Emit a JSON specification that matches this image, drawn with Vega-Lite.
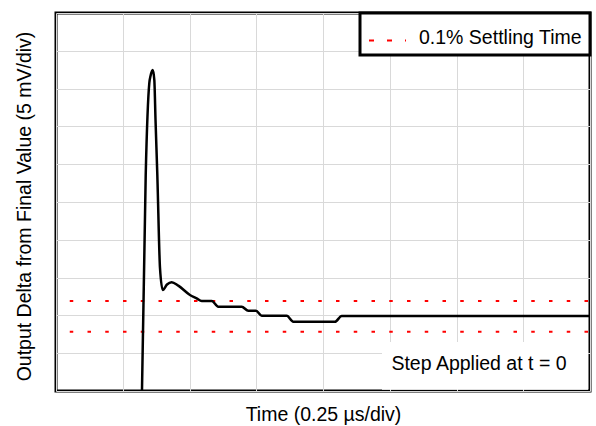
{
  "$schema": "https://vega.github.io/schema/vega-lite/v6.json",
  "width": 534,
  "height": 378,
  "autosize": {"type": "none"},
  "padding": {"left": 56, "top": 13, "right": 6, "bottom": 35},
  "background": "white",
  "datasets": {
    "wave": [
      {"t": 1.288, "v": 0.0},
      {"t": 1.344, "v": 5.714},
      {"t": 1.398, "v": 8.148},
      {"t": 1.416, "v": 8.333},
      {"t": 1.449, "v": 8.492},
      {"t": 1.473, "v": 8.228},
      {"t": 1.491, "v": 7.169},
      {"t": 1.518, "v": 5.714},
      {"t": 1.558, "v": 3.254},
      {"t": 1.599, "v": 2.672},
      {"t": 1.663, "v": 2.817},
      {"t": 1.733, "v": 2.876},
      {"t": 1.832, "v": 2.786},
      {"t": 2.007, "v": 2.54},
      {"t": 2.108, "v": 2.452},
      {"t": 2.183, "v": 2.381},
      {"t": 2.333, "v": 2.381},
      {"t": 2.431, "v": 2.23},
      {"t": 2.782, "v": 2.23},
      {"t": 2.881, "v": 2.124},
      {"t": 2.996, "v": 2.124},
      {"t": 3.082, "v": 1.99},
      {"t": 3.456, "v": 1.99},
      {"t": 3.555, "v": 1.833},
      {"t": 4.18, "v": 1.833},
      {"t": 4.28, "v": 1.984},
      {"t": 8.0, "v": 1.984}
    ],
    "limits": [
      {"v": 2.381, "series": "0.1% Settling Time"},
      {"v": 1.569, "series": "0.1% Settling Time"}
    ],
    "note": [
      {"text": "Step Applied at t = 0"}
    ]
  },
  "encoding": {
    "x": {
      "type": "quantitative",
      "scale": {"domain": [0, 8], "nice": false, "zero": false},
      "axis": {
        "title": "Time (0.25 µs/div)",
        "values": [0, 1, 2, 3, 4, 5, 6, 7, 8],
        "labels": false, "ticks": false, "domain": false,
        "grid": true, "gridColor": "#d9d9d9", "gridWidth": 1,
        "titlePadding": 14, "zindex": 0
      }
    },
    "y": {
      "type": "quantitative",
      "scale": {"domain": [0, 10], "nice": false, "zero": false},
      "axis": {
        "title": "Output Delta from Final Value (5 mV/div)",
        "values": [0, 1, 2, 3, 4, 5, 6, 7, 8, 9, 10],
        "labels": false, "ticks": false, "domain": false,
        "grid": true, "gridColor": "#d9d9d9", "gridWidth": 1,
        "titlePadding": 22, "titleY": 193, "zindex": 0
      }
    }
  },
  "layer": [
    {
      "data": {"name": "limits"},
      "mark": {"type": "rule", "strokeWidth": 2, "strokeDash": [3.5, 14.25], "strokeDashOffset": 15.75},
      "encoding": {
        "y": {"field": "v", "type": "quantitative"},
        "stroke": {
          "field": "series", "type": "nominal",
          "scale": {"range": ["#ff0000"]},
          "legend": {
            "title": null,
            "orient": "top-right",
            "offset": 0,
            "symbolType": "stroke",
            "symbolSize": 1369,
            "symbolDash": [5, 13],
            "symbolStrokeWidth": 2,
            "labelFontSize": 19.5,
            "labelFont": "Liberation Sans",
            "labelColor": "black",
            "labelOffset": 12,
            "labelLimit": 400,
            "padding": 8,
            "fillColor": "white",
            "strokeColor": "black",
            "cornerRadius": 0,
            "encode": {
              "legend": {"update": {"strokeWidth": {"value": 3}}},
              "labels": {"update": {"dy": {"value": -3}}}
            }
          }
        }
      }
    },
    {
      "data": {"name": "note"},
      "mark": {"type": "rect", "fill": "white"},
      "encoding": {
        "x": {"datum": 4.884},
        "x2": {"datum": 7.97},
        "y": {"datum": 0.03},
        "y2": {"datum": 1.296}
      }
    },
    {
      "data": {"name": "note"},
      "mark": {"type": "text", "fontSize": 19.5, "font": "Liberation Sans", "color": "black", "align": "center", "baseline": "alphabetic"},
      "encoding": {
        "x": {"datum": 6.337},
        "y": {"datum": 0.556},
        "text": {"field": "text", "type": "nominal"}
      }
    },
    {
      "data": {"name": "wave"},
      "mark": {"type": "line", "color": "black", "strokeWidth": 2.5, "interpolate": "monotone"},
      "encoding": {
        "x": {"field": "t", "type": "quantitative"},
        "y": {"field": "v", "type": "quantitative"}
      }
    }
  ],
  "config": {
    "font": "Liberation Sans",
    "view": {"stroke": "black", "strokeWidth": 3},
    "axis": {"titleFontSize": 19.5, "titleFontWeight": "normal", "titleColor": "black", "titleFont": "Liberation Sans"}
  }
}
